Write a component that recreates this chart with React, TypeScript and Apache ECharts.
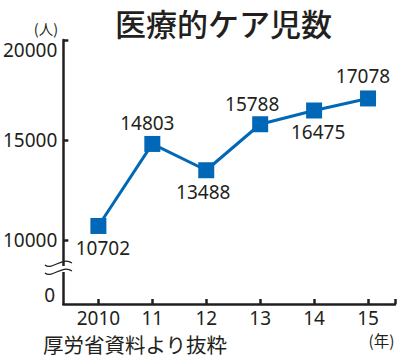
import React, { useEffect, useRef } from "react";
import * as echarts from "echarts";

const years = [2010, 2011, 2012, 2013, 2014, 2015];
const counts = [10702, 14803, 13488, 15788, 16475, 17078];
const yTickValues = [10000, 15000, 20000];
const xTickValues = [2010, 2011, 2012, 2013, 2014, 2015, 2015.5];
const title = "医療的ケア児数";
const source = "厚労省資料より抜粋";
const yUnit = "(人)";
const xUnit = "(年)";
const zeroLabel = "0";

const INK = "#231f20";
const BLUE = "#0068b7";
const NUM_FONT = "'Noto Sans', 'Noto Sans CJK JP', sans-serif";
const JP_FONT = "'Noto Sans CJK JP', sans-serif";

export default function App() {
  const ref = useRef<HTMLDivElement>(null);
  useEffect(() => {
    if (!ref.current) return;
    const chart = echarts.init(ref.current, null, { renderer: "svg" });
    const labelPos = ["bottom", "top", "bottom", "top", "bottom", "top"];
    const labelDx = [4.5, -5, -3, -8, 4, -5];
    const labelDist = [5, 3, 4, 3, 4, 5];
    const data = years.map((y, i) => ({
      value: [y, counts[i]],
      label: {
        show: true,
        position: labelPos[i],
        distance: labelDist[i],
        offset: [labelDx[i], 0],
        formatter: String(counts[i]),
        color: INK,
        fontSize: 19,
        fontFamily: NUM_FONT,
      },
    }));
    const wave = (dy: number) => ({
      type: "bezierCurve",
      shape: { x1: 45, y1: 265 + dy, cpx1: 52, cpy1: 271 + dy, cpx2: 62, cpy2: 256 + dy, x2: 72, y2: 263 + dy },
      style: { stroke: INK, lineWidth: 1.3, fill: null },
      z: 100,
    });
    chart.setOption({
      animation: false,
      backgroundColor: "#ffffff",
      grid: { left: 62, right: 5, top: 40, bottom: 57, containLabel: false },
      xAxis: {
        type: "value",
        min: 2009.35,
        max: 2015.5,
        axisLine: { show: true, onZero: false, lineStyle: { color: INK, width: 2.5 } },
        axisTick: { show: true, inside: true, length: 5, customValues: xTickValues, lineStyle: { color: INK, width: 2.5 } },
        axisLabel: {
          customValues: years,
          margin: 4,
          color: INK,
          fontSize: 19,
          fontFamily: NUM_FONT,
          formatter: (v: number) => (v === years[0] ? String(v) : String(v % 100)),
        },
        splitLine: { show: false },
      },
      yAxis: {
        type: "value",
        min: 6800,
        max: 20000,
        axisLine: { show: true, onZero: false, lineStyle: { color: INK, width: 2.5 } },
        axisTick: { show: true, inside: true, length: 5, customValues: yTickValues, lineStyle: { color: INK, width: 2.5 } },
        axisLabel: {
          customValues: yTickValues,
          margin: 6,
          color: INK,
          fontSize: 19,
          fontFamily: NUM_FONT,
          verticalAlignMaxLabel: "top",
          formatter: (v: number) => String(v),
        },
        splitLine: { show: false },
      },
      series: [
        {
          type: "line",
          data,
          symbol: "rect",
          symbolSize: 16,
          itemStyle: { color: BLUE },
          lineStyle: { color: BLUE, width: 3 },
          z: 5,
        },
      ],
      graphic: [
        {
          type: "text",
          x: 223.5,
          y: 22,
          style: { text: title, fill: INK, fontSize: 31, fontWeight: 500, fontFamily: JP_FONT, align: "center", verticalAlign: "middle" },
        },
        {
          type: "text",
          x: 46,
          y: 28,
          style: { text: yUnit, fill: INK, fontSize: 14.5, fontFamily: JP_FONT, align: "center", verticalAlign: "middle" },
        },
        {
          type: "text",
          x: 381.5,
          y: 339.5,
          style: { text: xUnit, fill: INK, fontSize: 15.5, fontFamily: JP_FONT, align: "center", verticalAlign: "middle" },
        },
        {
          type: "text",
          x: 43,
          y: 344,
          style: { text: source, fill: INK, fontSize: 20.5, fontFamily: JP_FONT, align: "left", verticalAlign: "middle" },
        },
        {
          type: "text",
          x: 55,
          y: 295,
          style: { text: zeroLabel, fill: INK, fontSize: 19, fontFamily: NUM_FONT, align: "right", verticalAlign: "middle" },
        },
        {
          type: "rect",
          shape: { x: 58, y: 266, width: 8, height: 6 },
          style: { fill: "#ffffff" },
          z: 99,
        },
        wave(0),
        wave(8),
      ],
    });
    return () => chart.dispose();
  }, []);
  return (
    <div
      ref={ref}
      style={{ position: "fixed", left: 0, top: 0, width: 400, height: 361, background: "#fff" }}
    />
  );
}
